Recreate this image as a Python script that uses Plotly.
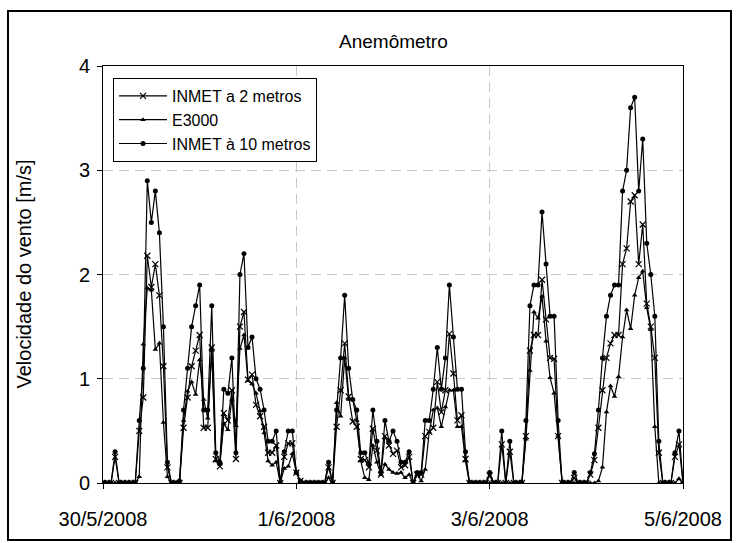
import pandas as pd
import plotly.graph_objects as go

# Hourly wind speed [m/s], 30/5/2008 00:00 to 5/6/2008 00:00 (145 readings)
start = "2008-05-30 00:00"

inmet_2m = [
    0, 0, 0, 0.25, 0, 0, 0, 0, 0, 0.5,
    0.82, 2.18, 1.88, 2.1, 1.8, 1.12, 0.15, 0, 0, 0,
    0.53, 0.82, 1.12, 1.27, 1.42, 0.53, 0.53, 1.3, 0.23, 0.16,
    0.67, 0.6, 0.89, 0.23, 1.5, 1.64, 0.99, 1.04, 0.75, 0.64,
    0.54, 0.29, 0.29, 0.36, 0, 0.25, 0.38, 0.38, 0.1, 0.02,
    0, 0, 0, 0, 0, 0, 0.15, 0, 0.54, 0.89,
    1.34, 0.83, 0.59, 0.54, 0.23, 0.22, 0.15, 0.52, 0.31, 0.08,
    0.45, 0.36, 0.28, 0.31, 0.15, 0.17, 0.25, 0, 0.08, 0.08,
    0.45, 0.49, 0.53, 0.97, 0.68, 0.89, 1.43, 1.05, 0.6, 0.65,
    0.23, 0, 0, 0, 0, 0, 0.07, 0, 0, 0.37,
    0, 0.3, 0, 0, 0, 0.45, 1.27, 1.42, 1.42, 1.95,
    1.57, 1.2, 1.19, 0.45, 0, 0, 0, 0.05, 0, 0,
    0, 0.08, 0.22, 0.53, 0.89, 1.2, 1.34, 1.42, 1.42, 2.1,
    2.25, 2.7, 2.76, 2.1, 2.48, 1.72, 1.5, 1.2, 0.29, 0,
    0, 0, 0.25, 0.37, 0,
]

e3000 = [
    0, 0, 0, 0, 0, 0, 0, 0, 0, 0.06,
    1.33, 1.87, 1.85, 1.28, 1.34, 0.58, 0.06, 0, 0, 0.03,
    0.6, 0.88, 0.97, 0.85, 1.18, 0.8, 0.62, 1.27, 0.21, 0.18,
    0.57, 0.51, 0.8, 0.55, 1.29, 1.42, 0.98, 0.95, 0.86, 0.69,
    0.48, 0.21, 0.17, 0.2, 0, 0.14, 0.16, 0.28, 0.1, 0.02,
    0, 0, 0, 0, 0, 0, 0.05, 0, 0.77, 0.64,
    1.2, 0.8, 0.8, 0.6, 0.21, 0.05, 0.03, 0.36, 0.2, 0.08,
    0.18, 0.13, 0.1, 0.09, 0.1, 0.05, 0.08, 0, 0.08, 0.02,
    0.13, 0.49, 0.7, 0.72, 0.54, 0.73, 0.89, 0.89, 0.54, 0.54,
    0.21, 0, 0, 0, 0, 0, 0, 0, 0, 0,
    0, 0, 0, 0, 0, 0.42, 1.08, 1.64, 1.58, 1.79,
    1.36, 1.01, 0.86, 0.45, 0, 0, 0, 0, 0, 0,
    0, 0, 0, 0.02, 0.15, 0.68, 0.93, 0.83, 1.02, 1.4,
    1.66, 1.48, 1.8, 1.97, 2.03, 1.68, 1.47, 0.54, 0, 0,
    0, 0, 0, 0.04, 0,
]

inmet_10m = [
    0, 0, 0, 0.3, 0, 0, 0, 0, 0, 0.6,
    1.1, 2.9, 2.5, 2.8, 2.4, 1.5, 0.2, 0, 0, 0,
    0.7, 1.1, 1.5, 1.7, 1.9, 0.7, 0.7, 1.7, 0.29, 0.2,
    0.9, 0.86, 1.2, 0.29, 2.0, 2.2, 1.3, 1.4, 1.0, 0.9,
    0.7, 0.4, 0.4, 0.5, 0, 0.3, 0.5, 0.5, 0.1, 0.02,
    0, 0, 0, 0, 0, 0, 0.2, 0, 0.7, 1.2,
    1.8, 1.1, 0.8, 0.7, 0.29, 0.29, 0.18, 0.7, 0.4, 0.1,
    0.6, 0.4, 0.5, 0.4, 0.2, 0.2, 0.3, 0, 0.1, 0.1,
    0.6, 0.6, 0.9, 1.3, 0.9, 1.2, 1.9, 1.4, 0.9, 0.9,
    0.3, 0, 0, 0, 0, 0, 0.1, 0, 0, 0.5,
    0, 0.4, 0, 0, 0, 0.6, 1.7, 1.9, 1.9, 2.6,
    2.1, 1.6, 1.6, 0.6, 0, 0, 0, 0.1, 0, 0,
    0, 0.1, 0.28, 0.7, 1.2, 1.6, 1.8, 1.9, 1.9, 2.8,
    3.0, 3.6, 3.7, 2.8, 3.3, 2.3, 2.0, 1.6, 0.4, 0,
    0, 0, 0.29, 0.5, 0,
]

tick_dates = ["2008-05-30", "2008-06-01", "2008-06-03", "2008-06-05"]
tick_labels = ["30/5/2008", "1/6/2008", "3/6/2008", "5/6/2008"]

times = pd.date_range(start, periods=len(inmet_10m), freq="h")

FONT = "Liberation Sans, Arial, sans-serif"
line_style = dict(color="black", width=1.2)

fig = go.Figure()
fig.add_trace(go.Scatter(
    x=times, y=inmet_2m, mode="lines+markers", name="INMET a 2 metros",
    line=line_style,
    marker=dict(symbol="x-thin-open", size=6, color="black",
                line=dict(color="black", width=1.2)),
))
fig.add_trace(go.Scatter(
    x=times, y=e3000, mode="lines+markers", name="E3000",
    line=line_style,
    marker=dict(symbol="triangle-up", size=5, color="black"),
))
fig.add_trace(go.Scatter(
    x=times, y=inmet_10m, mode="lines+markers", name="INMET à 10 metros",
    line=line_style,
    marker=dict(symbol="circle", size=5, color="black"),
))

L, R, T, B = 103, 53, 66, 60
W, H = 736, 543
pw, ph = W - L - R, H - T - B


def px_x(p):
    return (p - L) / pw


def px_y(p):
    return (H - B - p) / ph


fig.update_layout(
    width=W, height=H,
    margin=dict(l=L, r=R, t=T, b=B),
    paper_bgcolor="white", plot_bgcolor="white",
    font=dict(family=FONT, color="black"),
    showlegend=True,
    legend=dict(
        x=px_x(113), y=px_y(78), xanchor="left", yanchor="top",
        bgcolor="white", bordercolor="black", borderwidth=1,
        font=dict(size=16, family=FONT, color="black"),
        itemwidth=48, tracegroupgap=0,
    ),
    xaxis=dict(
        range=[tick_dates[0], tick_dates[-1]],
        tickvals=tick_dates, ticktext=tick_labels,
        tickfont=dict(size=20, family=FONT),
        ticks="outside", ticklen=5, tickcolor="black",
        ticklabelstandoff=13,
        showline=True, linecolor="black", linewidth=1, mirror=True,
        showgrid=True, gridcolor="#c8c8c8", griddash="10px,6px", gridwidth=1,
        zeroline=False,
    ),
    yaxis=dict(
        range=[0, 4], dtick=1, tick0=0,
        tickfont=dict(size=20, family=FONT),
        ticks="outside", ticklen=5, tickcolor="black",
        ticklabelstandoff=3,
        showline=True, linecolor="black", linewidth=1, mirror=True,
        showgrid=True, gridcolor="#c8c8c8", griddash="10px,6px", gridwidth=1,
        zeroline=False,
    ),
    annotations=[
        dict(text="Anemômetro", xref="paper", yref="paper",
             x=0.5, y=px_y(42), xanchor="center", yanchor="middle",
             showarrow=False, font=dict(size=19, family=FONT)),
        dict(text="Velocidade do vento [m/s]", xref="paper", yref="paper",
             x=px_x(23), y=0.5, xanchor="center", yanchor="middle",
             textangle=-90, showarrow=False, font=dict(size=20, family=FONT)),
    ],
    shapes=[
        dict(type="rect", xref="paper", yref="paper",
             x0=px_x(8), x1=px_x(731), y0=px_y(540), y1=px_y(11),
             line=dict(color="black", width=2), fillcolor="rgba(0,0,0,0)",
             layer="below"),
    ],
)

fig.write_html("out.html")
